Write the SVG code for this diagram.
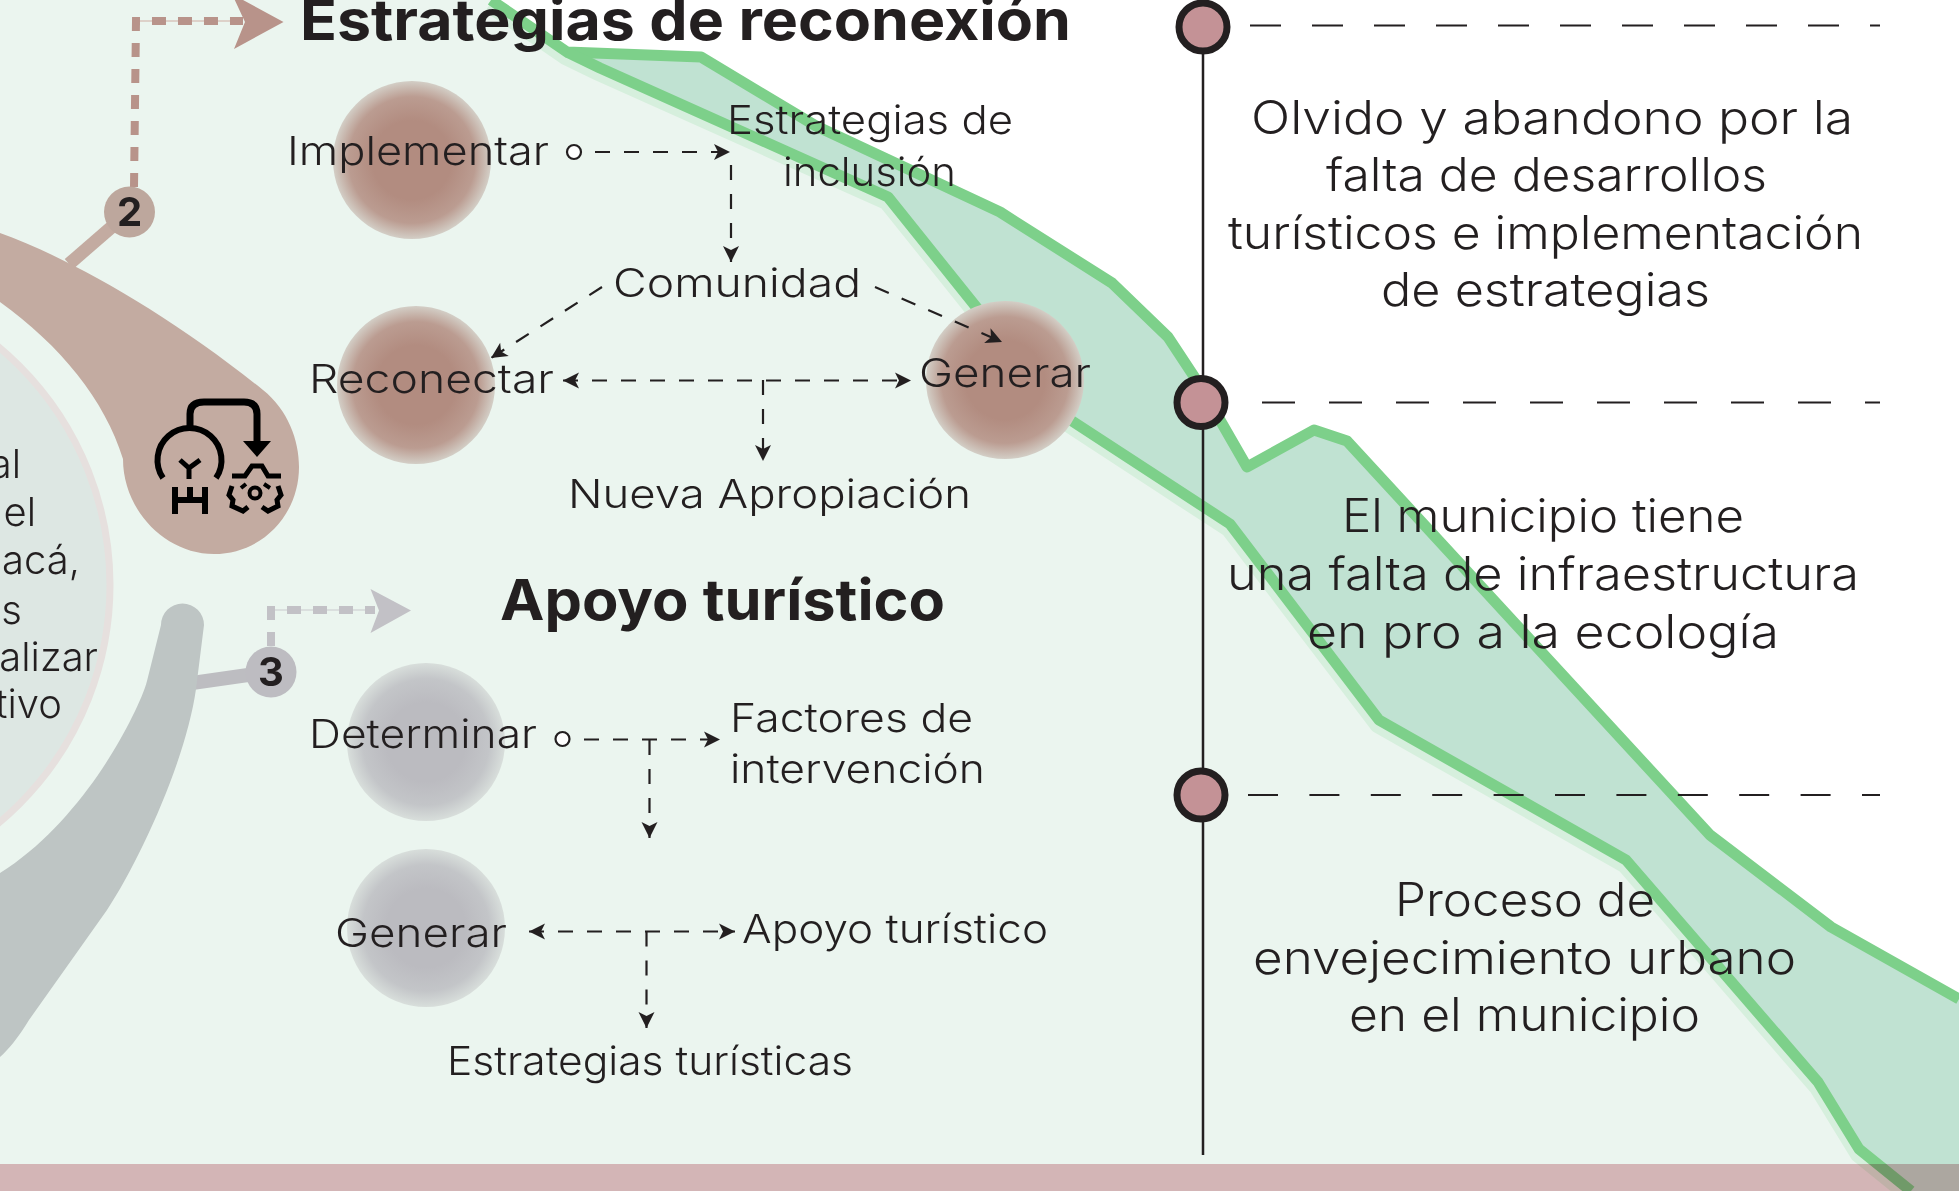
<svg xmlns="http://www.w3.org/2000/svg" width="1959" height="1191" viewBox="0 0 1959 1191">
<style>
text{font-family:"Inter","Liberation Sans",sans-serif;fill:#231f20}
.t{font-size:40px;font-weight:300}
.r{font-size:46px;font-weight:300}
.h{font-size:56px;font-weight:700}
.n{font-size:40px;font-weight:700;text-anchor:middle}
.e{font-size:40px;font-weight:300;text-anchor:end}
.d{fill:none;stroke:#231f20;stroke-width:2.2;stroke-dasharray:15 14}
.g{fill:none;stroke:#7dd08a;stroke-width:11;stroke-linejoin:round}
.tl{fill:none;stroke:#231f20;stroke-width:2.5}
.ic{fill:none;stroke:#000;stroke-width:6}
</style>
<defs>
<radialGradient id="gb"><stop offset="0.5" stop-color="#b28c80"/><stop offset="0.8" stop-color="#bb9c91"/><stop offset="1" stop-color="#d3cec6"/></radialGradient>
<radialGradient id="gg"><stop offset="0.5" stop-color="#bbbbc0"/><stop offset="0.8" stop-color="#c3c5c8"/><stop offset="1" stop-color="#d8dedb"/></radialGradient>
<marker id="a" markerUnits="userSpaceOnUse" markerWidth="20" markerHeight="20" refX="17" refY="10" orient="auto-start-reverse"><path d="M1,2 L17,10 L1,18 L5,10 Z" fill="#231f20"/></marker>
</defs>
<rect id="paper" width="1959" height="1191" fill="#fff"/>
<path id="ground" d="M491,0 L567,52 L600,68 L888,197 L985,318 L1046,404 L1230,524 L1379,720 L1626,860 L1818,1082 L1859,1149 L1911,1191 L0,1191 L0,0 Z" fill="#ebf5ef"/>
<g id="river">
<path d="M491,0 L567,52 L701,57 L816,126 L1000,212 L1112,283 L1168,337 L1201,387 L1247,467 L1314,430 L1347,441 L1710,835 L1831,927 L1959,999 L1959,1191 L1911,1191 L1859,1149 L1818,1082 L1626,860 L1379,720 L1230,524 L1046,404 L985,318 L888,197 L600,68 Z" fill="#c0e2d2"/>
<path class="g" transform="translate(-3,7)" style="stroke:#d6efdd" d="M491,0 L567,52 L600,68 L888,197 L985,318 L1046,404 L1230,524 L1379,720 L1626,860 L1818,1082 L1859,1149 L1911,1191"/>
<path class="g" d="M491,0 L567,52 L701,57 L816,126 L1000,212 L1112,283 L1168,337 L1201,387 L1247,467 L1314,430 L1347,441 L1710,835 L1831,927 L1959,999"/>
<path class="g" d="M567,52 L600,68 L888,197 L985,318 L1046,404 L1230,524 L1379,720 L1626,860 L1818,1082 L1859,1149 L1911,1191"/>
</g>
<rect id="footer" y="1164" width="1959" height="27" fill="#e5bdc2" style="mix-blend-mode:multiply"/>
<g id="hub">
<circle cx="-200" cy="585" r="310" fill="#dde7e3" stroke="#e6e0de" stroke-width="7"/>
<text class="e" x="21" y="478">al</text>
<text class="e" x="36" y="526">el</text>
<text class="e" x="80" y="574">acá,</text>
<text class="e" x="22" y="624">as</text>
<text class="e" x="98" y="671">alizar</text>
<text class="e" x="62" y="718">tivo</text>
</g>
<g id="connectors">
<path d="M69,264 L129,212" stroke="#c3aba1" stroke-width="13" fill="none"/>
<path d="M136,21 L243,21" stroke="#d8c4bd" stroke-width="1.5" fill="none"/>
<path d="M134,187 L136,21 L243,21" stroke="#b8938a" stroke-width="8" stroke-dasharray="14 12" fill="none"/>
<path d="M283.5,22 L234,49 L245,22 L232,-6 Z" fill="#b8938a"/>
<path d="M192,683 L248,675" stroke="#bdbdc1" stroke-width="14" fill="none"/>
<path d="M271,610 L375,610" stroke="#d5d7d9" stroke-width="1.5" fill="none"/>
<path d="M271,646 L271,610 L375,610" stroke="#c2c1c6" stroke-width="8" stroke-dasharray="14 12" fill="none"/>
<path d="M411,610.5 L370.5,633 L379,610.5 L370.5,589 Z" fill="#c2c1c6"/>
</g>
<g id="shape-brown"><path d="M0,233 C70,258 170,315 263,390 C288,410 299,440 299,467 C299,515 262,554 214,554 C165,554 123,510 123,459 C105,400 60,345 0,302 Z" fill="#c3aba1"/>
<g id="icon">
<path class="ic" style="stroke-width:7" d="M190,430 L190,414 Q190,402 204,402 L244,402 Q257,402 257,414 L257,445"/>
<path d="M243,441 L271,441 L257,457 Z" fill="#000"/>
<path class="ic" d="M163,478 A32,32 0 1 1 216,478"/>
<path class="ic" style="stroke-width:5" d="M180,460 L189,468 L200,460 M189,466 L189,479"/>
<path class="ic" d="M175,487 L175,514 M205,487 L205,514 M190,487 L190,500 M175,500 L205,500"/>
<path class="ic" style="stroke-width:5" d="M232,476 L245,476 L252,466 L262,466 L268,476 L281,476"/>
<path class="ic" style="stroke-width:5" d="M232,486 L229,495 L233,500 L232,506 L243,511 L248,507 M262,507 L268,511 L278,506 L277,500 L281,495 L278,486"/>
<circle class="ic" style="stroke-width:4" cx="255" cy="493" r="5.5"/>
<path class="ic" style="stroke-width:4" d="M241,488 L246,484 M264,484 L270,488"/>
</g></g>
<path id="shape-gray" d="M161,625 A21.5,21.5 0 0 1 204,625 L196,689 C186,760 140,860 107,910 L29,1020 C18,1038 8,1050 0,1057 L0,873 C40,848 72,812 98,775 C122,740 142,700 147,681 Z" fill="#bec5c4"/>
<g id="badge-2"><circle cx="129.5" cy="212" r="25.5" fill="#bda79d"/><text class="n" x="129.5" y="226">2</text></g>
<g id="badge-3"><circle cx="271" cy="672" r="25.5" fill="#bdbcc1"/><text class="n" x="271" y="686">3</text></g>
<g id="timeline">
<path class="tl" d="M1203,27 L1203,1155"/>
<g fill="none" stroke="#231f20" stroke-width="2.2">
<path d="M1250,25.5 L1880,25.5" stroke-dasharray="31 31"/>
<path d="M1262,402.5 L1880,402.5" stroke-dasharray="33 34"/>
<path d="M1248,795 L1880,795" stroke-dasharray="30 31.4"/>
</g>
<g fill="#c49296" stroke="#231f20" stroke-width="7">
<circle cx="1203" cy="27" r="24"/>
<circle cx="1201" cy="402.5" r="24"/>
<circle cx="1201" cy="795" r="24"/>
</g>
</g>
<g id="blob-implementar"><circle cx="412" cy="160" r="79" fill="url(#gb)"/></g>
<g id="blob-reconectar"><circle cx="416" cy="385" r="79" fill="url(#gb)"/></g>
<g id="blob-generar"><circle cx="1005" cy="380" r="79" fill="url(#gb)"/></g>
<g id="blob-determinar"><circle cx="426" cy="742" r="79" fill="url(#gg)"/></g>
<g id="blob-generar2"><circle cx="426" cy="928" r="79" fill="url(#gg)"/></g>
<g id="flow">
<circle cx="574" cy="152" r="7" fill="#fff" stroke="#231f20" stroke-width="2.2"/>
<path class="d" d="M595,152 L730,152" marker-end="url(#a)"/>
<path class="d" d="M731,165 L731,262" marker-end="url(#a)"/>
<path class="d" d="M602,287 L491,358" marker-end="url(#a)"/>
<path class="d" d="M875,287 L1002,342" marker-end="url(#a)"/>
<path class="d" d="M563,380.5 L911,380.5" marker-start="url(#a)" marker-end="url(#a)"/>
<path class="d" d="M763,380 L763,461" marker-end="url(#a)"/>
<circle cx="562.5" cy="739" r="7" fill="#fff" stroke="#231f20" stroke-width="2.2"/>
<path class="d" d="M584,739.5 L720,739.5" marker-end="url(#a)"/>
<path class="d" d="M649.5,740 L649.5,838" marker-end="url(#a)"/>
<path class="d" d="M529,931.5 L735,931.5" marker-start="url(#a)" marker-end="url(#a)"/>
<path class="d" d="M646.5,931.5 L646.5,1028" marker-end="url(#a)"/>
</g>
<g id="labels">
<text class="h" x="300" y="40" textLength="771" lengthAdjust="spacingAndGlyphs">Estrategias de reconexión</text>
<text class="h" x="500" y="620" textLength="445" lengthAdjust="spacingAndGlyphs">Apoyo turístico</text>
<text class="t" x="287" y="165" textLength="262" lengthAdjust="spacingAndGlyphs">Implementar</text>
<text class="t" x="727" y="134" textLength="286" lengthAdjust="spacingAndGlyphs">Estrategias de</text>
<text class="t" x="783" y="186" textLength="173" lengthAdjust="spacingAndGlyphs">inclusión</text>
<text class="t" x="613" y="297" textLength="248" lengthAdjust="spacingAndGlyphs">Comunidad</text>
<text class="t" x="309" y="393" textLength="245" lengthAdjust="spacingAndGlyphs">Reconectar</text>
<text class="t" x="919" y="387" textLength="172" lengthAdjust="spacingAndGlyphs">Generar</text>
<text class="t" x="568" y="508" textLength="403" lengthAdjust="spacingAndGlyphs">Nueva Apropiación</text>
<text class="t" x="309" y="748" textLength="228" lengthAdjust="spacingAndGlyphs">Determinar</text>
<text class="t" x="730" y="732" textLength="243" lengthAdjust="spacingAndGlyphs">Factores de</text>
<text class="t" x="730" y="783" textLength="255" lengthAdjust="spacingAndGlyphs">intervención</text>
<text class="t" x="335" y="947" textLength="172" lengthAdjust="spacingAndGlyphs">Generar</text>
<text class="t" x="742" y="943" textLength="306" lengthAdjust="spacingAndGlyphs">Apoyo turístico</text>
<text class="t" x="447" y="1075" textLength="406" lengthAdjust="spacingAndGlyphs">Estrategias turísticas</text>
<text class="r" x="1251" y="134" textLength="602" lengthAdjust="spacingAndGlyphs">Olvido y abandono por la</text>
<text class="r" x="1326" y="191" textLength="441" lengthAdjust="spacingAndGlyphs">falta de desarrollos</text>
<text class="r" x="1228" y="249" textLength="635" lengthAdjust="spacingAndGlyphs">turísticos e implementación</text>
<text class="r" x="1381" y="306" textLength="329" lengthAdjust="spacingAndGlyphs">de estrategias</text>
<text class="r" x="1342" y="532" textLength="402" lengthAdjust="spacingAndGlyphs">El municipio tiene</text>
<text class="r" x="1227" y="590" textLength="632" lengthAdjust="spacingAndGlyphs">una falta de infraestructura</text>
<text class="r" x="1307" y="648" textLength="472" lengthAdjust="spacingAndGlyphs">en pro a la ecología</text>
<text class="r" x="1395" y="916" textLength="260" lengthAdjust="spacingAndGlyphs">Proceso de</text>
<text class="r" x="1253" y="974" textLength="543" lengthAdjust="spacingAndGlyphs">envejecimiento urbano</text>
<text class="r" x="1349" y="1031" textLength="351" lengthAdjust="spacingAndGlyphs">en el municipio</text>
</g>
</svg>
